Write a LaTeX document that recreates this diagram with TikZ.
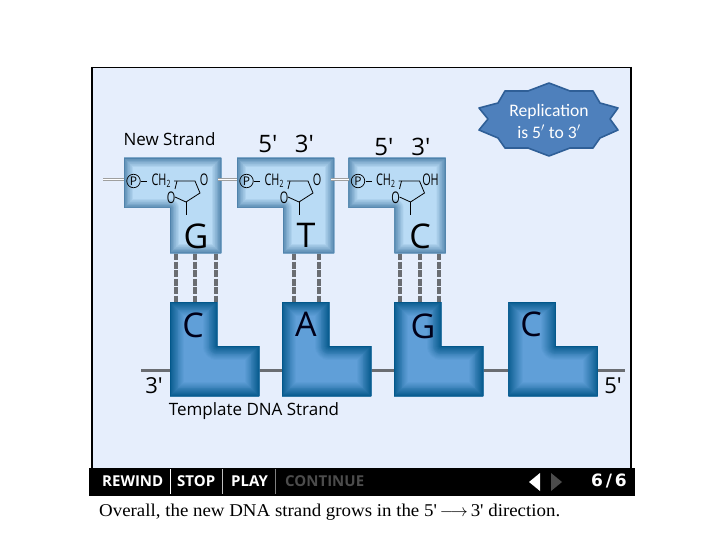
\documentclass[tikz,border=0pt]{standalone}
\usepackage{fontspec}
\setmainfont{Liberation Serif}
\newfontfamily\myrfont{Open Sans}
\newfontfamily\carfont{Carlito}
\newfontfamily\djvfont{DejaVu Sans}
\newfontfamily\capfont[FakeStretch=1.05]{Liberation Serif}
\definecolor{panelbg}{HTML}{E6EEFC}
\definecolor{newedge}{HTML}{4F82AB}
\definecolor{newin}{HTML}{B9DBF5}
\definecolor{tmpledge}{HTML}{02578A}
\definecolor{tmplin}{HTML}{609FD8}
\definecolor{bondc}{HTML}{6A6D72}
\definecolor{sealf}{HTML}{4E80BC}
\definecolor{seald}{HTML}{2F5F97}
\tikzset{
  hbond/.style={draw=bondc,line width=3.2pt,dash pattern=on 7pt off 1.5pt},
  backbone/.style={draw=bondc,line width=3pt},
  dbl/.style={draw=gray!75,double=white,line width=1pt,double distance=1pt},
  chem/.style={line width=.8pt,draw=black},
  lbl/.style={font=\myrfont\fontsize{17}{20}\selectfont,text=black,inner sep=0pt},
  prime/.style={font=\myrfont\fontsize{24}{26}\selectfont,text=black,inner sep=0pt},
  base/.style={font=\myrfont\fontsize{34}{36}\selectfont,text=black,inner sep=0pt},
  tbase/.style={font=\myrfont\fontsize{34}{36}\selectfont,text=black!90!blue,inner sep=0pt},
  atom/.style={font=\myrfont\fontsize{16}{16}\selectfont,inner sep=0pt,transform shape,xscale=.68},
  barw/.style={font=\myrfont\bfseries\fontsize{15}{16}\selectfont,text=white,inner sep=0pt,anchor=west},
  barsep/.style={line width=.8pt},
}
% #1 outline, #2 inner colour, #3 edge colour, #4 glow depth
\newcommand{\glow}[4]{%
  \begin{scope}
    \clip #1;
    \fill[#2] #1;
    \foreach \d in {0,1,...,16}{
      \pgfmathsetmacro{\w}{2*#4*(16-\d)/16+.1}
      \pgfmathsetmacro{\pc}{100*((16-\d)/16)^0.9}
      \draw[line width=\w pt,color=#2!\pc!#3,line join=round] #1;
    }
  \end{scope}}
\newcommand{\nucnew}[2]{%
  \begin{scope}[shift={(#1,0)}]
    \glow{(124,158) -- (221,158) -- (221,253) -- (170,253) -- (170,208) -- (124,208) -- cycle}{newin}{newedge}{10}
    \node[circle,draw=black,line width=.7pt,minimum size=13.5pt,inner sep=0pt,font=\myrfont\fontsize{12}{12}\selectfont] at (133.5,181) {P};
    \draw[chem] (141,181) -- (147,181);
    \node[atom] at (161,180.5) {CH\raisebox{-2pt}{\fontsize{10}{10}\selectfont 2}};
    \draw[chem] (177,181) -- (175,189);
    \draw[chem] (174,181) -- (195,181) -- (200,193) -- (186,202) -- (175,197);
    \draw[chem] (186,202) -- (186,215);
    \node[atom] at (171,198) {O};
    #2
  \end{scope}}
\newcommand{\nuctmpl}[1]{%
  \begin{scope}[shift={(#1,0)}]
    \glow{(170,302) -- (217,302) -- (217,346) -- (259,346) -- (259,396) -- (170,396) -- cycle}{tmplin}{tmpledge}{15}
  \end{scope}}
\begin{document}
\begin{tikzpicture}[x=1pt,y=-1pt]
\useasboundingbox (0,0) rectangle (720,540);
\fill[white] (0,0) rectangle (720,540);
\fill[panelbg] (92,67) rectangle (631,468);
\draw[black,line width=1pt] (91,67.5) -- (632,67.5);
\draw[black,line width=2.5pt] (92,67) -- (92,468);
\draw[black,line width=2.5pt] (631,67) -- (631,468);
\coordinate (bbL) at (141,370);
\coordinate (bbR) at (625,370);
\draw[backbone] (bbL) -- (bbR);
\foreach \x/\n in {176/a,195/b,216/c,294/d,319/e,400/f,420/g,439/h}{
  \coordinate (up\n) at (\x,253);
  \coordinate (dn\n) at (\x,302);
  \draw[hbond] (up\n) -- (dn\n);
}
\coordinate (l0) at (103,180);\coordinate (l1) at (124,180);
\coordinate (l2) at (218,180);\coordinate (l3) at (237,180);
\coordinate (l4) at (331,180);\coordinate (l5) at (349,180);
\nucnew{0}{\node[atom] at (204,180) {O};\node[base] (bG) at (196,236) {G};}
\nucnew{113}{\node[atom] at (204,180) {O};\node[base] (bT) at (193,235) {T};}
\nucnew{224.5}{\node[atom] at (206,180) {OH};\node[base] (bCn) at (195.5,236) {C};}
\draw[dbl] (l0) -- (l1);
\draw[dbl] (l2) -- (l3);
\draw[dbl] (l4) -- (l5);
\nuctmpl{0}
\nuctmpl{112}
\nuctmpl{224}
\nuctmpl{338.5}
\node[tbase] (tC) at (193,325) {C};
\node[tbase] (tA) at (306,324) {A};
\node[tbase] (tG) at (423,326) {G};
\node[tbase] (tC2) at (531,324) {C};
\node[lbl] (ns) at (169.5,139) {New Strand};
\node[prime] (p1) at (268,144) {5'};
\node[prime] (p2) at (304.5,144) {3'};
\node[prime] (p3) at (384,147) {5'};
\node[prime] (p4) at (421,147) {3'};
\node[prime,font=\myrfont\fontsize{22}{24}\selectfont] (p5) at (154,385.5) {3'};
\node[prime,font=\myrfont\fontsize{22}{24}\selectfont] (p6) at (613,385.5) {5'};
\node[lbl] (ts) at (254,411.5) {Template DNA Strand};
\draw[draw=seald,fill=sealf,line width=1.6pt,line join=round]
 (549,83) -- (570,91) -- (593,91) -- (600,103) -- (618,108) -- (610,119) -- (618,130) -- (600,138) -- (593,148) -- (570,148) -- (549,156) -- (528,148) -- (505,148) -- (498,138) -- (479,130) -- (488,119) -- (479,108) -- (498,103) -- (505,91) -- (528,91) -- cycle;
\node[font=\carfont\fontsize{17.6}{22}\selectfont,text=white,align=center,inner sep=0pt] (rep) at (549,121) {Replication\\is 5$'$ to 3$'$};
\fill[black] (89,468) rectangle (635,496);
\node[barw] (rw) at (102,481.5) {REWIND};
\node[barw] (st) at (177,481.5) {STOP};
\node[barw] (pl) at (231,481.5) {PLAY};
\node[barw,text=black!70!white] (co) at (285,481.5) {CONTINUE};
\draw[barsep,white] (170,469) -- (170,494);
\draw[barsep,white!75!black] (222,469) -- (222,494);
\draw[barsep,white!50!black] (275.5,469) -- (275.5,494);
\fill[white] (529,482) -- (540,473) -- (540,491) -- cycle;
\fill[black!70!white] (562,482) -- (551,473) -- (551,491) -- cycle;
\node[font=\djvfont\bfseries\fontsize{17}{18}\selectfont,text=white,inner sep=0pt] (pg) at (609,481) {6\,/\,6};
\node[font=\capfont\fontsize{18}{20}\selectfont,anchor=west,inner sep=0pt] (cap) at (99,512) {Overall, the new DNA strand grows in the 5'\,$\longrightarrow$\,3' direction.};
\end{tikzpicture}
\end{document}
